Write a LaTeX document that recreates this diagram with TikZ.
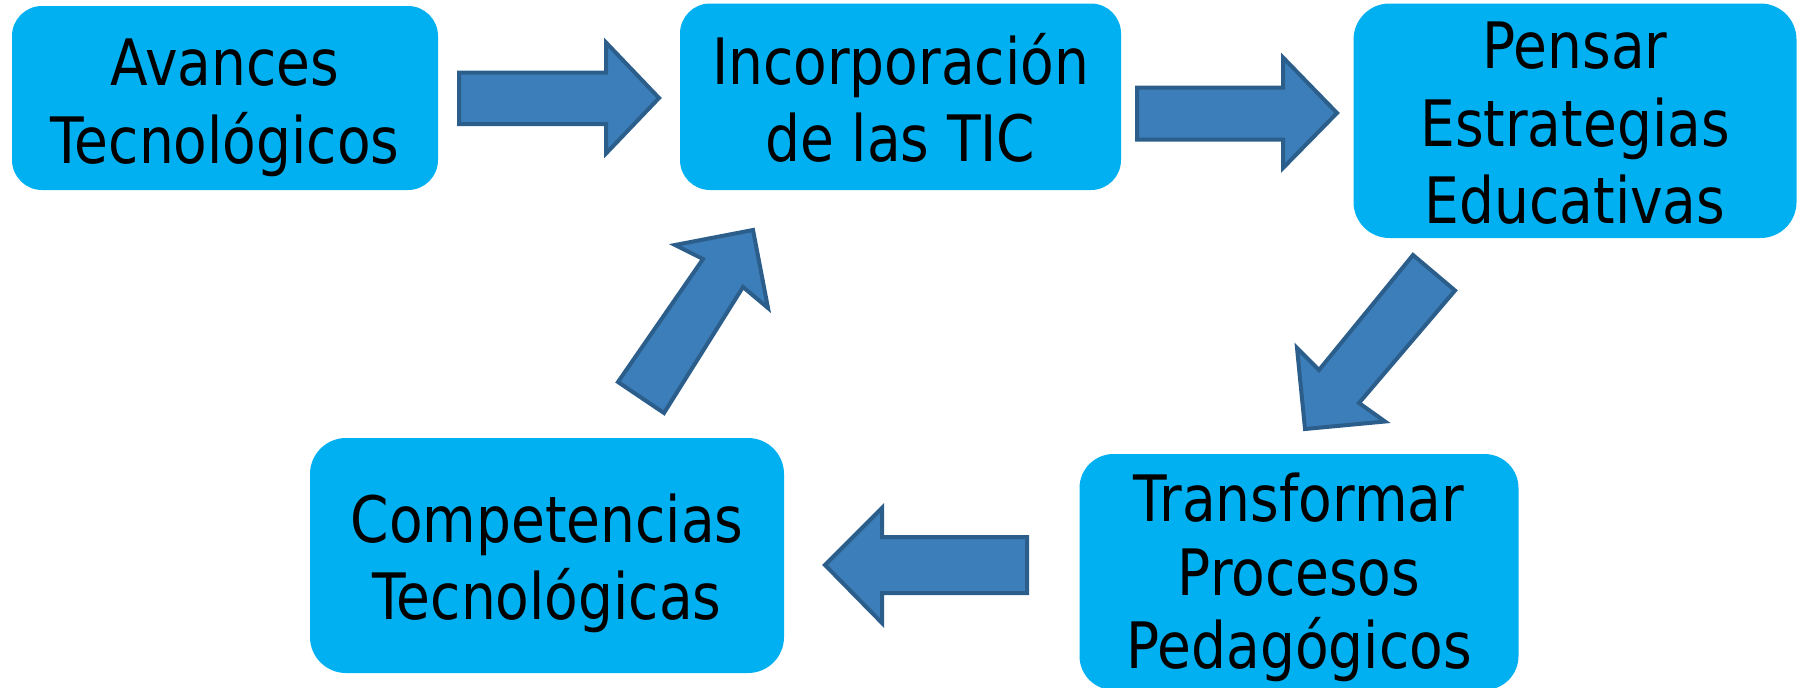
\documentclass[tikz,border=0pt]{standalone}
\usepackage{fontspec}
\setmainfont{DejaVu Sans}[FakeStretch=0.86]
\definecolor{boxc}{HTML}{00B0F0}
\definecolor{arrf}{HTML}{3B7EBA}
\definecolor{arrd}{HTML}{2C5E8C}
\begin{document}
\begin{tikzpicture}[x=0.5pt,y=-0.5pt,
  box/.style={fill=boxc, rounded corners=15pt, inner sep=0pt, shape=rectangle},
  lbl/.style={anchor=base, font=\fontsize{32}{39}\selectfont, inner sep=0pt, text=black},
  blockarrow/.style={fill=arrf, draw=arrd, line width=2pt, line join=miter}]
\useasboundingbox (0,0) rectangle (1803,687);
\clip (0,0) rectangle (1803,687);
% boxes
\node[box, minimum width=213pt, minimum height=92pt] (b1) at (225,98) {};
\node[box, minimum width=220.5pt, minimum height=93.25pt] (b2) at (900.5,96.75) {};
\node[box, minimum width=221.5pt, minimum height=117.25pt, rounded corners=18pt] (b3) at (1575,120.75) {};
\node[box, minimum width=219.5pt, minimum height=118pt, rounded corners=17pt] (b4) at (1299,572) {};
\node[box, minimum width=237pt, minimum height=117.5pt, rounded corners=18pt] (b5) at (547,555.5) {};
% labels
\node[lbl] (t1a) at (225,85) {Avances};
\node[lbl] (t1b) at (225,163) {Tecnológicos};
\node[lbl] (t2a) at (900.5,84) {Incorporación};
\node[lbl] (t2b) at (900.5,161) {de las TIC};
\node[lbl] (t3a) at (1575,68) {Pensar};
\node[lbl] (t3b) at (1575,146) {Estrategias};
\node[lbl] (t3c) at (1575,223) {Educativas};
\node[lbl] (t4a) at (1299,521) {Transformar};
\node[lbl] (t4b) at (1299,595) {Procesos};
\node[lbl] (t4c) at (1299,668) {Pedagógicos};
\node[lbl] (t5a) at (547,542) {Competencias};
\node[lbl] (t5b) at (547,619) {Tecnológicas};
% block arrows
\draw[blockarrow] (459,72.5) -- (606,72.5) -- (606,42.5) -- (659,98) -- (606,153.5) -- (606,124) -- (459,124) -- cycle;
\draw[blockarrow] (1137,87.5) -- (1283,87.5) -- (1283,57.5) -- (1337,113) -- (1283,168) -- (1283,139.5) -- (1137,139.5) -- cycle;
\draw[blockarrow] (1413,255) -- (1455,290.5) -- (1359,403) -- (1385,421.5) -- (1305,429) -- (1297,348) -- (1319,370) -- cycle;
\draw[blockarrow] (1027,537) -- (882,537) -- (882,508) -- (825,565) -- (882,623) -- (882,593) -- (1027,593) -- cycle;
\draw[blockarrow] (618,382) -- (703,259) -- (675,245) -- (753,230) -- (768,308) -- (743,287) -- (664,413) -- cycle;
\end{tikzpicture}
\end{document}
